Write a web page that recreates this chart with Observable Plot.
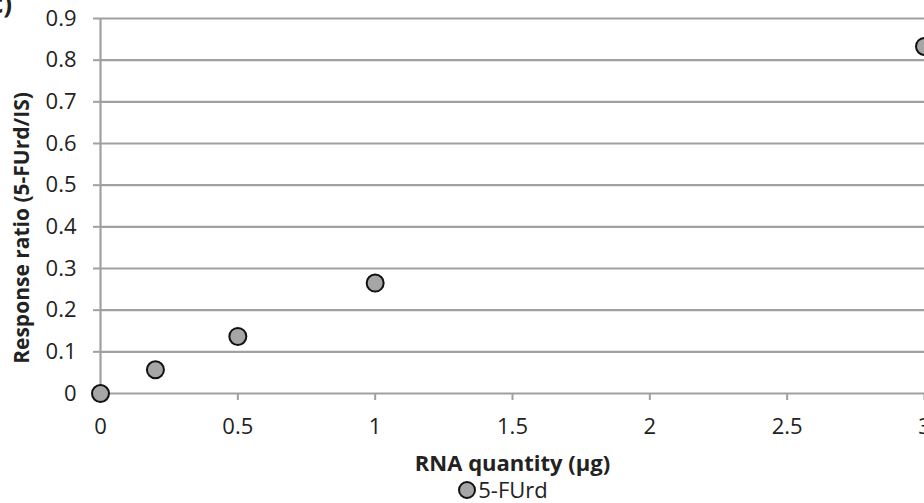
<!DOCTYPE html>
<html>
<head>
<meta charset="utf-8">
<script src="https://cdn.jsdelivr.net/npm/d3@7"></script>
<script src="https://cdn.jsdelivr.net/npm/@observablehq/plot@0.6"></script>
<style>
  body { margin: 0; background: #fff; font-family: "Open Sans", sans-serif; }
  #wrap { position: relative; width: 924px; height: 503px; overflow: hidden; }
  #panel { position: absolute; left: -10px; top: -15px; font-weight: bold; font-size: 26px; color: #222; }
  #legend { position: absolute; left: 0; top: 478px; width: 924px; box-sizing: border-box; padding-left: 82px; text-align: center; font-size: 22px; color: #222; line-height: 23px; height: 23px; }
  #legend .sw { display: inline-block; width: 14px; height: 14px; border-radius: 50%; background: #a6a6a6; border: 2px solid #111; vertical-align: -1px; margin-right: 2px; }
</style>
</head>
<body>
<div id="wrap">
  <div id="chart"></div>
  <div id="panel">c)</div>
  <div id="legend"><span class="sw"></span>5-FUrd</div>
</div>
<script>
const rnaQuantity = [0, 0.2, 0.5, 1, 3];
const responseRatio = [0, 0.057, 0.137, 0.265, 0.833];
const seriesName = "5-FUrd";
const xTicks = [0, 0.5, 1, 1.5, 2, 2.5, 3];
const yTicks = [0, 0.1, 0.2, 0.3, 0.4, 0.5, 0.6, 0.7, 0.8, 0.9];

const data = rnaQuantity.map((x, i) => ({x, y: responseRatio[i], series: seriesName}));
const gridColor = "#a0a0a0";

const chart = Plot.plot({
  width: 924,
  height: 478,
  marginLeft: 100,
  marginRight: 0,
  marginTop: 18,
  marginBottom: 85,
  style: { fontFamily: "'Open Sans', sans-serif", fontSize: "22px", color: "#222", background: "#fff" },
  x: { domain: [0, 3], ticks: xTicks, tickFormat: d => String(d) },
  y: { domain: [0, 0.9], ticks: yTicks, tickFormat: d => String(+d.toFixed(1)) },
  marks: [
    Plot.ruleY(yTicks, { stroke: gridColor, strokeWidth: 2.2 }),
    Plot.ruleX([0], { stroke: gridColor, strokeWidth: 2.2 }),
    Plot.axisY({ ticks: yTicks, tickSize: 7, tickPadding: 17, stroke: gridColor, strokeWidth: 2, strokeOpacity: 1, label: null, fontSize: 22, tickFormat: d => String(+d.toFixed(1)) }),
    Plot.axisX({ ticks: xTicks, tickSize: 7, tickPadding: 18, stroke: gridColor, strokeWidth: 2, strokeOpacity: 1, label: null, fontSize: 22, tickFormat: d => String(d) }),
    Plot.text(["Response ratio (5-FUrd/IS)"], { frameAnchor: "left", textAnchor: "middle", rotate: -90, dx: -78, dy: 22, fontWeight: "bold", fontSize: 21, fill: "#222" }),
    Plot.text(["RNA quantity (µg)"], { frameAnchor: "bottom", dy: 77, fontWeight: "bold", fontSize: 22, fill: "#222" }),
    Plot.dot(data, { x: "x", y: "y", r: 8.5, fill: "#a6a6a6", stroke: "#111", strokeWidth: 2 })
  ]
});
document.getElementById("chart").appendChild(chart);
</script>
</body>
</html>
